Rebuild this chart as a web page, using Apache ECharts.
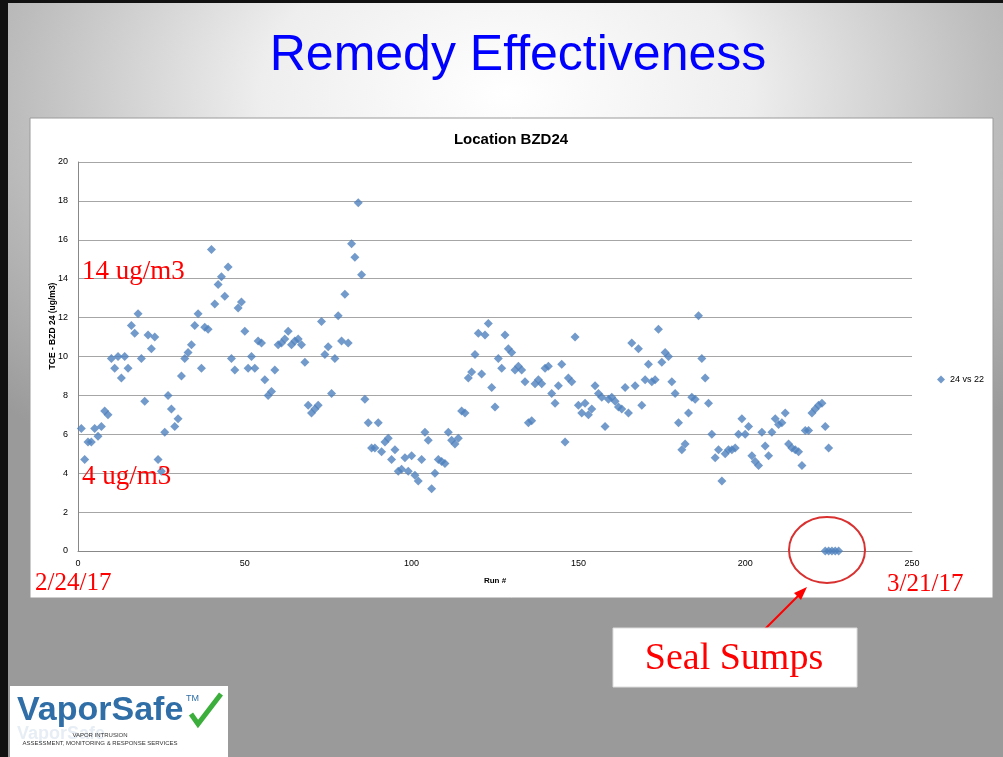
<!DOCTYPE html>
<html>
<head>
<meta charset="utf-8">
<script src="https://cdn.jsdelivr.net/npm/echarts@6/dist/echarts.min.js"></script>
<style>
  html, body { margin: 0; padding: 0; }
  #page {
    width: 1003px; height: 757px; box-sizing: border-box;
    border-top: 3px solid #111; border-left: 8px solid #111;
    background: radial-gradient(ellipse 70% 60% at 50% 12%, #ffffff 0%, #eeeeee 35%, #bdbdbd 70%, #9a9a9a 100%);
  }
  #chart { width: 995px; height: 754px; }
</style>
</head>
<body>
<div id="page"><div id="chart"></div></div>
<script>
// TCE readings per run (ug/m3), runs numbered from 1
const readings = [
  6.3, 4.7, 5.6, 5.6, 6.3, 5.9, 6.4, 7.2, 7.0, 9.9,
  9.4, 10.0, 8.9, 10.0, 9.4, 11.6, 11.2, 12.2, 9.9, 7.7,
  11.1, 10.4, 11.0, 4.7, 4.1, 6.1, 8.0, 7.3, 6.4, 6.8,
  9.0, 9.9, 10.2, 10.6, 11.6, 12.2, 9.4, 11.5, 11.4, 15.5,
  12.7, 13.7, 14.1, 13.1, 14.6, 9.9, 9.3, 12.5, 12.8, 11.3,
  9.4, 10.0, 9.4, 10.8, 10.7, 8.8, 8.0, 8.2, 9.3, 10.6,
  10.7, 10.9, 11.3, 10.6, 10.8, 10.9, 10.6, 9.7, 7.5, 7.1,
  7.3, 7.5, 11.8, 10.1, 10.5, 8.1, 9.9, 12.1, 10.8, 13.2,
  10.7, 15.8, 15.1, 17.9, 14.2, 7.8, 6.6, 5.3, 5.3, 6.6,
  5.1, 5.6, 5.8, 4.7, 5.2, 4.1, 4.2, 4.8, 4.1, 4.9,
  3.9, 3.6, 4.7, 6.1, 5.7, 3.2, 4.0, 4.7, 4.6, 4.5,
  6.1, 5.7, 5.5, 5.8, 7.2, 7.1, 8.9, 9.2, 10.1, 11.2,
  9.1, 11.1, 11.7, 8.4, 7.4, 9.9, 9.4, 11.1, 10.4, 10.2,
  9.3, 9.5, 9.3, 8.7, 6.6, 6.7, 8.6, 8.8, 8.6, 9.4,
  9.5, 8.1, 7.6, 8.5, 9.6, 5.6, 8.9, 8.7, 11.0, 7.5,
  7.1, 7.6, 7.0, 7.3, 8.5, 8.1, 7.9, 6.4, 7.8, 7.9,
  7.7, 7.4, 7.3, 8.4, 7.1, 10.7, 8.5, 10.4, 7.5, 8.8,
  9.6, 8.7, 8.8, 11.4, 9.7, 10.2, 10.0, 8.7, 8.1, 6.6,
  5.2, 5.5, 7.1, 7.9, 7.8, 12.1, 9.9, 8.9, 7.6, 6.0,
  4.8, 5.2, 3.6, 5.0, 5.2, 5.2, 5.3, 6.0, 6.8, 6.0,
  6.4, 4.9, 4.6, 4.4, 6.1, 5.4, 4.9, 6.1, 6.8, 6.5,
  6.6, 7.1, 5.5, 5.3, 5.2, 5.1, 4.4, 6.2, 6.2, 7.1,
  7.3, 7.5, 7.6, 6.4, 5.3
];
// after the sumps were sealed
const sealedRuns = [224, 225, 226, 227, 228];
const sealedReadings = [0, 0, 0, 0, 0];

const seriesName = '24 vs 22';
const xTicks = [0, 50, 100, 150, 200, 250];
const yTicks = [0, 2, 4, 6, 8, 10, 12, 14, 16, 18, 20];

const points = readings.map((v, i) => [i + 1, v])
  .concat(sealedRuns.map((r, i) => [r, sealedReadings[i]]));

const chart = echarts.init(document.getElementById('chart'));
const red = '#ff0000';
const serif = '"Liberation Serif", "DejaVu Serif", serif';
const sans = '"Liberation Sans", Arial, sans-serif';

chart.setOption({
  animation: false,
  textStyle: { fontFamily: sans },
  title: {
    text: 'Location BZD24',
    left: 498, top: 124, textAlign: 'center',
    textStyle: { fontSize: 15, fontWeight: 'bold', color: '#000' }
  },
  legend: {
    data: [seriesName],
    orient: 'vertical',
    left: 924, top: 367,
    itemWidth: 8, itemHeight: 8, itemGap: 4,
    textStyle: { fontSize: 9, color: '#000' }
  },
  grid: { left: 70, right: 91, top: 159, bottom: 206 },
  xAxis: {
    type: 'value', min: xTicks[0], max: xTicks[xTicks.length - 1], interval: 50,
    name: 'Run #', nameLocation: 'middle', nameGap: 26,
    nameTextStyle: { fontSize: 8, fontWeight: 'bold', color: '#000' },
    axisLine: { lineStyle: { color: '#888' } },
    axisTick: { show: false },
    splitLine: { show: false },
    axisLabel: { fontSize: 9, color: '#000', margin: 8 }
  },
  yAxis: {
    type: 'value', min: yTicks[0], max: yTicks[yTicks.length - 1], interval: 2,
    axisLine: { show: true, lineStyle: { color: '#888' } },
    axisTick: { show: false },
    splitLine: { lineStyle: { color: '#a6a6a6', width: 1 } },
    axisLabel: { fontSize: 9, color: '#000', margin: 10 }
  },
  series: [{
    name: seriesName,
    type: 'scatter',
    symbol: 'diamond',
    symbolSize: 9,
    itemStyle: { color: '#4f81bd' },
    data: points
  }],
  graphic: [
    // white chart panel
    { type: 'rect', z: -10, silent: true,
      shape: { x: 22, y: 115, width: 963, height: 480 },
      style: { fill: '#fff', stroke: '#9a9a9a', lineWidth: 1 } },
    // y axis title, sits over the tick labels like in the source
    { type: 'text', z: 50, x: 45, y: 323, rotation: Math.PI / 2,
      style: { text: 'TCE - BZD 24 (ug/m3)', fill: '#000', font: 'bold 8.5px ' + sans, align: 'center', verticalAlign: 'middle' } },
    // slide title
    { type: 'text', x: 510, y: 53,
      style: { text: 'Remedy Effectiveness', fill: '#0000ff', font: '50px ' + sans, align: 'center', verticalAlign: 'middle' } },
    // annotations
    { type: 'text', z: 100, x: 74, y: 255,
      style: { text: '14 ug/m3', fill: red, font: '27px ' + serif } },
    { type: 'text', z: 100, x: 74, y: 460,
      style: { text: '4 ug/m3', fill: red, font: '27px ' + serif } },
    { type: 'text', z: 100, x: 27, y: 568,
      style: { text: '2/24/17', fill: red, font: '25px ' + serif } },
    { type: 'text', z: 100, x: 879, y: 569,
      style: { text: '3/21/17', fill: red, font: '25px ' + serif } },
    { type: 'ellipse', z: 100, silent: true,
      shape: { cx: 819, cy: 547, rx: 38, ry: 33 },
      style: { fill: 'none', stroke: '#d93030', lineWidth: 2 } },
    { type: 'line', z: 100, silent: true,
      shape: { x1: 757, y1: 626, x2: 794, y2: 589 },
      style: { stroke: red, lineWidth: 2 } },
    { type: 'polygon', z: 100, silent: true,
      shape: { points: [[799, 584], [786, 590], [793, 597]] },
      style: { fill: red } },
    { type: 'rect', z: 100, silent: true,
      shape: { x: 605, y: 625, width: 244, height: 59 },
      style: { fill: '#fff', stroke: '#ddd' } },
    { type: 'text', z: 101, x: 726, y: 656,
      style: { text: 'Seal Sumps', fill: red, font: '38px ' + serif, align: 'center', verticalAlign: 'middle' } },
    // logo
    { type: 'rect', silent: true,
      shape: { x: 2, y: 683, width: 218, height: 71 },
      style: { fill: '#fff' } },
    { type: 'text', x: 9, y: 691,
      style: { text: 'VaporSafe', fill: '#2f6ea6', font: 'bold 34px ' + sans } },
    { type: 'text', x: 9, y: 722, silent: true,
      style: { text: 'VaporSafe', fill: 'rgba(47,110,166,0.12)', font: 'bold 18px ' + sans } },
    { type: 'text', x: 178, y: 691,
      style: { text: 'TM', fill: '#2f6ea6', font: '9px ' + sans } },
    { type: 'polyline', silent: true,
      shape: { points: [[183, 711], [190, 721], [213, 691]] },
      style: { stroke: '#3cae3c', lineWidth: 5, fill: 'none' } },
    { type: 'text', x: 92, y: 729,
      style: { text: 'VAPOR INTRUSION', fill: '#333', font: '6px ' + sans, align: 'center' } },
    { type: 'text', x: 92, y: 737,
      style: { text: 'ASSESSMENT, MONITORING & RESPONSE SERVICES', fill: '#333', font: '6px ' + sans, align: 'center' } }
  ]
});
</script>
</body>
</html>
